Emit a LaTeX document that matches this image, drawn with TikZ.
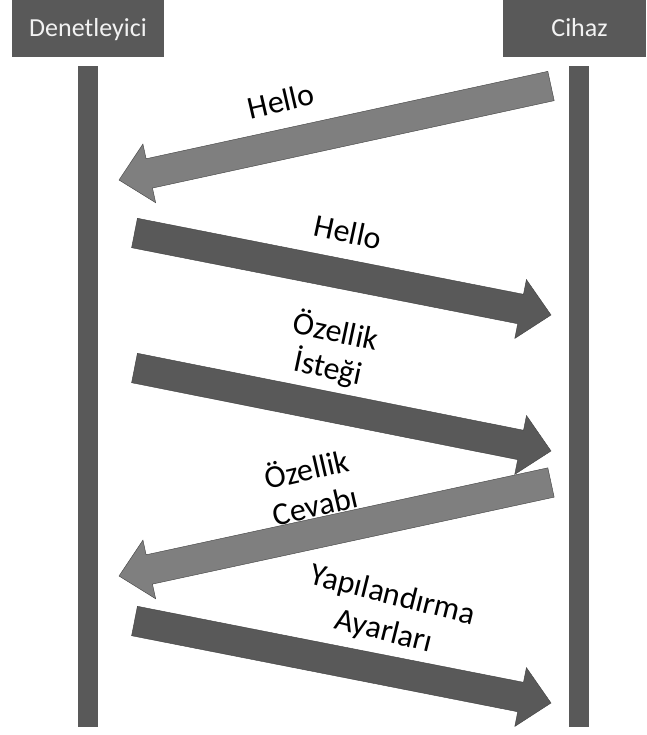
\documentclass[tikz,border=0pt]{standalone}
\usepackage{fontspec}
\setmainfont{Carlito}
\usetikzlibrary{calc}
\definecolor{darkg}{HTML}{595959}
\definecolor{lightg}{HTML}{7F7F7F}
\definecolor{boxtxt}{HTML}{F2F2F2}
\tikzset{
  actor/.style={fill=darkg},
  actortext/.style={text=boxtxt, font=\fontsize{26}{30}\selectfont, inner sep=0pt, anchor=base},
  lifeline/.style={fill=darkg},
  msgdark/.style={fill=darkg, draw=black!75, line width=0.4pt, line join=miter},
  msglight/.style={fill=lightg, draw=black!75, line width=0.4pt, line join=miter},
  lbl/.style={font=\fontsize{32}{37}\selectfont, align=center, inner sep=0pt, text=black}
}
\newcommand{\blockarrow}[3]{%
  \coordinate (#1-#2-c) at ($(#2)!31pt!(#1)$);
  \path[#3] ($(#1)!15pt!90:(#2)$) -- ($(#1-#2-c)!15pt!90:(#2)$) -- ($(#1-#2-c)!30pt!90:(#2)$)
    -- (#2) -- ($(#1-#2-c)!30pt!-90:(#2)$) -- ($(#1-#2-c)!15pt!-90:(#2)$)
    -- ($(#1)!15pt!-90:(#2)$) -- cycle;}
\begin{document}
\begin{tikzpicture}[x=1pt,y=-1pt]
\useasboundingbox[fill=white] (0,0) rectangle (646,735);
% actor boxes
\path[actor] (12,0) rectangle (164,57);
\node[actortext] (den) at (88,37) {Denetleyici};
\path[actor] (503,0) rectangle (646,57);
\node[actortext] (cih) at (579.5,37) {Cihaz};
% lifelines
\path[lifeline] (78,66) rectangle (98,727);
\path[lifeline] (569,66) rectangle (589,727);
% arrow end points
\coordinate (t1) at (551,86);    \coordinate (h1) at (119,180);
\coordinate (t2) at (134.5,233); \coordinate (h2) at (551,315);
\coordinate (t3) at (134.5,368); \coordinate (h3) at (551,451);
\coordinate (t4) at (551,482.5); \coordinate (h4) at (119,576);
\coordinate (t5) at (134.5,621); \coordinate (h5) at (551,703);
\blockarrow{t1}{h1}{msglight}
\blockarrow{t2}{h2}{msgdark}
\blockarrow{t3}{h3}{msgdark}
\blockarrow{t4}{h4}{msglight}
\blockarrow{t5}{h5}{msgdark}
% labels
\node[lbl, rotate=13] (l1) at (281,101) {Hello};
\node[lbl, rotate=-12] (l2) at (348,232) {Hello};
\node[lbl, rotate=-12] (l3) at (332,350) {Özellik\\İsteği};
\node[lbl, rotate=13] (l4) at (310.5,486) {Özellik\\Cevabı};
\node[lbl, rotate=-14] (l5) at (388,614) {Yapılandırma\\Ayarları};
\end{tikzpicture}
\end{document}
